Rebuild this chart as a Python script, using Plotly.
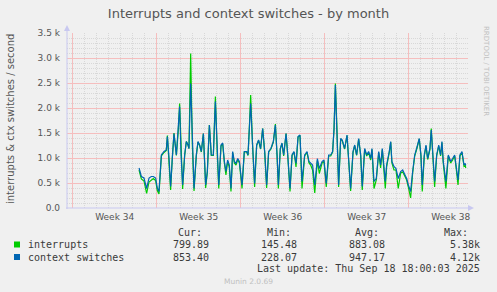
import plotly.graph_objects as go

# time in days since Sunday 2025-08-17 00:00 (week 34 boundary)
t_days = [5.53, 5.72, 5.94, 6.16, 6.36, 6.55, 6.72, 6.91, 7.05, 7.19, 7.39, 7.61, 7.80, 7.89,
          8.03, 8.16, 8.30, 8.44, 8.64, 8.80, 8.91, 9.03, 9.16, 9.33, 9.47, 9.61, 9.69, 9.83,
          9.97, 10.11, 10.30, 10.44, 10.58, 10.72, 10.89, 11.08, 11.22, 11.39, 11.55, 11.72,
          11.89, 12.05, 12.17, 12.36, 12.5, 12.64, 12.77, 12.91, 13.05, 13.19, 13.33, 13.47,
          13.61, 13.75, 13.89, 14.11, 14.3, 14.5, 14.61, 14.72, 14.83, 14.99, 15.16, 15.33,
          15.49, 15.66, 15.83, 16.0, 16.16, 16.33, 16.52, 16.72, 16.89, 17.03, 17.14, 17.3,
          17.44, 17.58, 17.78, 17.92, 18.11, 18.28, 18.44, 18.61, 18.78, 18.94, 19.11, 19.33,
          19.53, 19.69, 19.83, 19.99, 20.17, 20.39, 20.55, 20.78, 20.94, 21.13, 21.33, 21.5,
          21.66, 21.78, 21.89, 22.02, 22.16, 22.33, 22.46, 22.66, 22.86, 22.99, 23.16, 23.36,
          23.5, 23.66, 23.83, 24.0, 24.13, 24.33, 24.5, 24.66, 24.83, 24.94, 25.11, 25.3,
          25.5, 25.66, 25.8, 26.05, 26.16, 26.38, 26.5, 26.6, 26.77, 26.94, 27.13, 27.33,
          27.5, 27.69, 27.83, 27.97, 28.16, 28.33, 28.5, 28.66, 28.88, 29.02, 29.13, 29.3,
          29.44, 29.58, 29.77, 29.88, 30.05, 30.16, 30.33, 30.5, 30.66, 30.77, 30.88, 31.1,
          31.3, 31.5, 31.66, 31.83, 31.94, 32.11, 32.27, 32.44, 32.61, 32.72, 32.75]

ctx_switches = [800, 630, 600, 390, 600, 630, 630, 600, 400, 330, 1060, 1130, 1160, 1430,
                990, 430, 990, 1490, 1060, 1530, 2030, 1060, 460, 1060, 1330, 1260, 1190, 2490,
                1260, 390, 1060, 1330, 1260, 1130, 1490, 460, 730, 1660, 1060, 1060,
                2130, 1060, 460, 1260, 1300, 930, 730, 960, 860, 390, 1130, 930,
                890, 990, 930, 460, 1130, 1130, 1060, 1590, 2090, 1260, 490, 1260,
                1360, 1190, 1590, 1130, 460, 1130, 1190, 1330, 1660, 1060, 460, 1190,
                1300, 1060, 1490, 1060, 390, 1060, 1130, 890, 1430, 1460, 530, 1060,
                1130, 930, 890, 860, 460, 990, 790, 930, 960, 490, 1060, 1060,
                1130, 1590, 2460, 1590, 460, 1390, 1360, 1190, 1460, 990, 390, 1130,
                1260, 1060, 1390, 1060, 430, 1190, 1060, 1130, 990, 1190, 530, 590,
                1130, 860, 1190, 530, 860, 1130, 1330, 930, 830, 790, 590, 730,
                760, 660, 590, 460, 330, 730, 1060, 1190, 1390, 1060, 460, 1060,
                1260, 990, 1190, 1560, 930, 530, 1060, 1260, 1060, 1330, 930, 530,
                1060, 930, 990, 1060, 860, 560, 1060, 1130, 860, 890, 853.40]

interrupts = [760, 580, 540, 290, 520, 560, 590, 550, 350, 280, 1040, 1110, 1150, 1450,
              980, 360, 1000, 1500, 1050, 1550, 2090, 1050, 380, 1050, 1330, 1260, 1190, 3090,
              1260, 340, 1040, 1320, 1250, 1120, 1490, 400, 720, 1660, 1050, 1050,
              2230, 1050, 390, 1240, 1280, 900, 660, 930, 820, 330, 1110, 900,
              860, 970, 900, 390, 1120, 1120, 1050, 1600, 2260, 1250, 420, 1250,
              1350, 1180, 1590, 1110, 400, 1120, 1180, 1320, 1680, 1050, 390, 1180,
              1290, 1040, 1490, 1050, 330, 1050, 1120, 820, 1420, 1450, 390, 1040,
              1110, 900, 860, 760, 300, 950, 690, 900, 930, 420, 1040, 1040,
              1120, 1590, 2490, 1590, 420, 1380, 1350, 1180, 1450, 980, 340, 1110,
              1250, 1050, 1380, 1040, 360, 1170, 1040, 1110, 960, 1170, 390, 560,
              1110, 800, 1170, 390, 820, 1110, 1320, 900, 760, 760, 390, 700,
              720, 630, 560, 420, 200, 700, 1040, 1170, 1380, 1040, 330, 1040,
              1240, 970, 1170, 1590, 900, 420, 1040, 1240, 1040, 1310, 900, 390,
              1040, 900, 960, 1040, 830, 460, 1040, 1110, 830, 850, 799.89]

y_tickvals = [0, 500, 1000, 1500, 2000, 2500, 3000, 3500]
y_ticktext = ["0.0", "0.5 k", "1.0 k", "1.5 k", "2.0 k", "2.5 k", "3.0 k", "3.5 k"]
week_pos = [3.5, 10.5, 17.5, 24.5, 31.5]
week_labels = ["Week 34", "Week 35", "Week 36", "Week 37", "Week 38"]

series_names = ["interrupts", "context switches"]
series_colors = ["#00cc00", "#0066b3"]
stat_headers = ["Cur:", "Min:", "Avg:", "Max:"]
stats = [["799.89", "145.48", "883.08", "5.38k"],
         ["853.40", "228.07", "947.17", "4.12k"]]
last_update = "Last update: Thu Sep 18 18:00:03 2025"

W, H = 497, 292
L, R, T, B = 67, 468, 33, 208


def px(x):
    return (x - L) / (R - L)


def py(y):
    return (B - y) / (B - T)


# grid positions (minor grid skips major positions so the red lines stay visible)
x_major = [0, 7, 14, 21, 28]
x_minor = [d for d in range(0, 33) if d % 7 != 0]
y_minor = [v for v in range(100, 3501, 100) if v % 500 != 0]

fig = go.Figure()
fig.add_trace(go.Scatter(x=t_days, y=interrupts, mode="lines",
                         line=dict(color=series_colors[0], width=1.2), name=series_names[0]))
fig.add_trace(go.Scatter(x=t_days, y=ctx_switches, mode="lines",
                         line=dict(color=series_colors[1], width=1.2), name=series_names[1]))

bg = "#f0f0f0"
mono = "DejaVu Sans Mono"
sans = "DejaVu Sans"
major_grid = "rgb(245,190,190)"
minor_grid = "#d8d8d8"
xrange = [(L - 72.7) / 12, (R - 72.7) / 12]
fig.update_layout(
    template="none",
    width=W, height=H, paper_bgcolor=bg, plot_bgcolor=bg,
    margin=dict(l=L, r=W - R, t=T, b=H - B),
    showlegend=False,
    title=dict(text="Interrupts and context switches - by month", x=0.5, xref="container",
               xanchor="center", y=1 - 13.5 / H, yanchor="middle",
               font=dict(family=sans, size=13, color="#555555")),
    xaxis=dict(range=xrange, tickmode="array", tickvals=x_major,
               showticklabels=False, ticks="", showgrid=True, gridcolor=major_grid,
               gridwidth=1, zeroline=False, showline=False,
               minor=dict(tickmode="array", tickvals=x_minor, showgrid=True, ticks="",
                          gridcolor=minor_grid, gridwidth=1, griddash="1px,1px")),
    xaxis2=dict(range=xrange, overlaying="x", anchor="y",
                side="bottom", tickmode="array", tickvals=week_pos, ticktext=week_labels,
                showgrid=False, zeroline=False, ticks="", ticklabelstandoff=2, showline=False,
                tickfont=dict(family=sans, size=9, color="#555555")),
    yaxis=dict(range=[0, 3500], tickmode="array", tickvals=y_tickvals, ticktext=y_ticktext,
               showgrid=True, gridcolor=major_grid, gridwidth=1, zeroline=False,
               ticks="", ticklabelstandoff=6, showline=False,
               tickfont=dict(family=sans, size=9, color="#555555"),
               minor=dict(tickmode="array", tickvals=y_minor, showgrid=True, ticks="",
                          gridcolor=minor_grid, gridwidth=1, griddash="1px,1px")),
)
# invisible trace so xaxis2 is drawn
fig.add_trace(go.Scatter(x=[t_days[0]], y=[0], xaxis="x2", mode="markers",
                         marker=dict(opacity=0), hoverinfo="skip", showlegend=False))

axis_col = "#c8c8f0"
shapes = [
    dict(type="line", xref="paper", yref="paper", x0=px(L), x1=px(L), y0=py(B + 1), y1=py(29),
         line=dict(color=axis_col, width=1)),
    dict(type="line", xref="paper", yref="paper", x0=px(L - 1), x1=px(470), y0=py(B), y1=py(B),
         line=dict(color=axis_col, width=1)),
    dict(type="path", xref="paper", yref="paper",
         path=f"M {px(L-3)} {py(31)} L {px(L)} {py(25)} L {px(L+3)} {py(31)} Z",
         fillcolor=axis_col, line=dict(color=axis_col, width=0)),
    dict(type="path", xref="paper", yref="paper",
         path=f"M {px(468)} {py(B-3)} L {px(474)} {py(B)} L {px(468)} {py(B+3)} Z",
         fillcolor=axis_col, line=dict(color=axis_col, width=0)),
]
for i, c in enumerate(series_colors):
    yc = 244.5 + i * 12.5
    shapes.append(dict(type="rect", xref="paper", yref="paper", x0=px(14), x1=px(20),
                       y0=py(yc - 3), y1=py(yc + 3), fillcolor=c, line=dict(width=0)))
fig.update_layout(shapes=shapes)

ann = []
ann.append(dict(text="interrupts & ctx switches / second", x=px(10), y=py(119),
                xref="paper", yref="paper", showarrow=False, textangle=-90,
                font=dict(family=sans, size=10, color="#555555"),
                xanchor="center", yanchor="middle"))
ann.append(dict(text="RRDTOOL / TOBI OETIKER", x=px(486), y=py(71), xref="paper", yref="paper",
                showarrow=False, textangle=90, font=dict(family=sans, size=7, color="#c0c0c0"),
                xanchor="center", yanchor="middle"))
head_x = [204, 292.7, 380.7, 470]
val_x = [210.7, 299.3, 387.3, 482.3]
txt_col = "#3a3a3a"
for hx, h in zip(head_x, stat_headers):
    ann.append(dict(text=h, x=px(hx), y=py(232.5), xref="paper", yref="paper", showarrow=False,
                    xanchor="right", yanchor="middle", font=dict(family=mono, size=10, color=txt_col)))
for i, (name, row) in enumerate(zip(series_names, stats)):
    yc = 244.5 + i * 12.5
    ann.append(dict(text=name, x=px(26), y=py(yc), xref="paper", yref="paper", showarrow=False,
                    xanchor="left", yanchor="middle", font=dict(family=mono, size=10, color=txt_col)))
    for vx, v in zip(val_x, row):
        ann.append(dict(text=v, x=px(vx), y=py(yc), xref="paper", yref="paper", showarrow=False,
                        xanchor="right", yanchor="middle", font=dict(family=mono, size=10, color=txt_col)))
ann.append(dict(text=last_update, x=px(482.3), y=py(268.5), xref="paper", yref="paper",
                showarrow=False, xanchor="right", yanchor="middle",
                font=dict(family=mono, size=10, color=txt_col)))
ann.append(dict(text="Munin 2.0.69", x=px(248), y=py(281), xref="paper", yref="paper",
                showarrow=False, xanchor="center", yanchor="middle",
                font=dict(family=sans, size=7.5, color="#c0c0c0")))
fig.update_layout(annotations=ann)

fig.write_html("out.html", config={"displayModeBar": False})
